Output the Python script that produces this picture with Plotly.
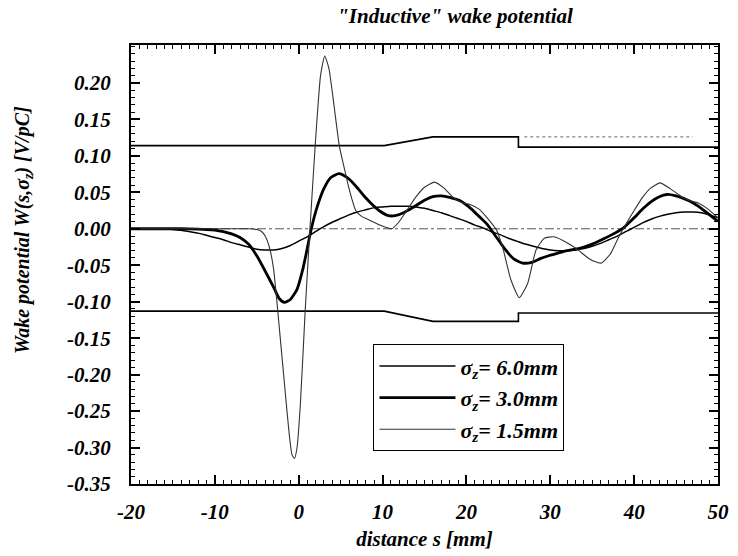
import plotly.graph_objects as go

# ---- data ----
s_15 = [-20, -10, -6, -5, -4.5, -4, -3.5, -3, -2.6, -2.2, -1.8, -1.4, -1.1, -0.8, -0.5, -0.2, 0.2, 0.76,
        1.34, 2.0, 2.6, 3.1, 3.6, 4.2, 4.85, 5.4, 6.0, 6.8, 7.5, 8.4, 9.9, 11.1, 12.0, 13.0, 14.0, 15.0,
        16.2, 17.3, 18.5, 19.5, 20.5, 21.5, 22.4, 23.6, 24.4, 25.3, 26.3, 27.3, 28.3, 29.3, 30.4, 31.5,
        32.4, 33.3, 34.5, 35.3, 36.1, 37.2, 38.0, 38.8, 40.0, 41.0, 42.0, 43.1, 44.3, 45.8, 46.8, 47.7,
        48.8, 50.0]
w_15 = [0, 0, 0, -0.001, -0.003, -0.010, -0.025, -0.055, -0.100, -0.150, -0.200, -0.250, -0.285, -0.310,
        -0.315, -0.300, -0.240, -0.115, 0.000, 0.120, 0.210, 0.237, 0.220, 0.170, 0.113, 0.085, 0.055,
        0.025, 0.017, 0.012, 0.004, 0.000, 0.010, 0.027, 0.044, 0.057, 0.064, 0.056, 0.042, 0.036, 0.033,
        0.027, 0.016, -0.002, -0.029, -0.070, -0.0945, -0.075, -0.029, -0.013, -0.011, -0.016, -0.022,
        -0.029, -0.040, -0.045, -0.047, -0.034, -0.015, 0.002, 0.025, 0.043, 0.056, 0.063, 0.055, 0.043,
        0.038, 0.035, 0.027, 0.015]

s_30 = [-20, -14, -12, -11, -10, -9, -8, -7, -6, -5, -4, -3, -2.3, -1.7, -1.0, -0.2, 0.5, 1.0, 1.5, 2.2,
        3.0, 3.8, 4.8, 5.8, 6.85, 7.8, 8.7, 9.7, 10.7, 11.5, 12.5, 13.6, 15.0, 16.0, 17.0, 18.0, 19.3,
        20.5, 21.5, 22.4, 23.6, 24.6, 25.6, 26.7, 27.8, 28.8, 29.8, 31.0, 32.0, 33.0, 34.0, 35.0, 36.5,
        37.7, 38.8, 40.0, 41.0, 42.0, 43.0, 43.9, 45.0, 46.6, 48.0, 49.0, 50.0]
w_30 = [0, 0, -0.0005, -0.001, -0.002, -0.004, -0.007, -0.012, -0.021, -0.037, -0.058, -0.080, -0.096,
        -0.101, -0.097, -0.083, -0.055, -0.028, 0.000, 0.030, 0.055, 0.070, 0.0756, 0.070, 0.058, 0.045,
        0.034, 0.024, 0.018, 0.018, 0.022, 0.029, 0.039, 0.044, 0.045, 0.043, 0.038, 0.028, 0.017, 0.007,
        -0.012, -0.028, -0.041, -0.047, -0.046, -0.041, -0.037, -0.033, -0.030, -0.028, -0.025, -0.021,
        -0.013, -0.006, 0.002, 0.015, 0.027, 0.037, 0.044, 0.047, 0.045, 0.038, 0.028, 0.019, 0.010]

s_60 = [-20, -16, -15, -14, -13, -12, -11, -10, -9, -8, -7, -6, -5, -4, -3, -2, -1, 0, 1, 2, 3, 4, 5,
        6, 7, 8, 9, 10, 11, 12, 13, 14, 15, 16, 17, 18, 19, 20, 21, 22, 23, 24, 25, 26, 27, 28, 29, 30,
        31, 32, 33, 34, 35, 36, 37, 38, 39, 40, 41, 42, 43, 44, 45, 46, 47, 48, 49, 50]
w_60 = [0, 0, -0.001, -0.002, -0.004, -0.006, -0.009, -0.012, -0.015, -0.019, -0.022, -0.025, -0.028,
        -0.029, -0.029, -0.027, -0.023, -0.017, -0.011, -0.004, 0.003, 0.009, 0.014, 0.019, 0.023, 0.026,
        0.029, 0.030, 0.031, 0.031, 0.031, 0.030, 0.028, 0.025, 0.022, 0.018, 0.014, 0.010, 0.005, 0.001,
        -0.004, -0.008, -0.013, -0.017, -0.021, -0.024, -0.027, -0.029, -0.030, -0.030, -0.029, -0.027,
        -0.024, -0.020, -0.015, -0.010, -0.004, 0.002, 0.008, 0.013, 0.017, 0.020, 0.022, 0.023, 0.023,
        0.022, 0.019, 0.015]

# geometry outline (upper / lower profile)
s_geo = [-20, 10.2, 16.0, 26.2, 26.2, 50]
w_upper = [0.114, 0.114, 0.126, 0.126, 0.112, 0.112]
w_lower = [-0.113, -0.113, -0.127, -0.127, -0.1155, -0.1155]
s_dot = [26.9, 47.0]
w_dot = [0.126, 0.126]
s_zero = [-20, 50]
w_zero = [0, 0]

x_tickvals = [-20, -10, 0, 10, 20, 30, 40, 50]
x_ticktext = ["-20", "-10", "0", "10", "20", "30", "40", "50"]
y_tickvals = [0.20, 0.15, 0.10, 0.05, 0.00, -0.05, -0.10, -0.15, -0.20, -0.25, -0.30, -0.35]
y_ticktext = ["0.20", "0.15", "0.10", "0.05", "0.00", "-0.05", "-0.10", "-0.15", "-0.20", "-0.25",
              "-0.30", "-0.35"]

labels = ["σ<sub>z</sub>= 6.0mm", "σ<sub>z</sub>= 3.0mm", "σ<sub>z</sub>= 1.5mm"]
title_text = "\"Inductive\" wake potential"
x_title = "distance s [mm]"
y_title = "Wake potential W(s,σ<sub>z</sub>) [V/pC]"


def b(t):
    return "<b><i>" + t + "</i></b>"


FONT = "Liberation Serif"

fig = go.Figure()

# helper lines (no legend)
fig.add_trace(go.Scatter(x=s_zero, y=w_zero, mode="lines", showlegend=False,
                         line=dict(color="#555555", width=1, dash="dashdot")))
fig.add_trace(go.Scatter(x=s_geo, y=w_upper, mode="lines", showlegend=False,
                         line=dict(color="black", width=1.6)))
fig.add_trace(go.Scatter(x=s_geo, y=w_lower, mode="lines", showlegend=False,
                         line=dict(color="black", width=1.6)))
fig.add_trace(go.Scatter(x=s_dot, y=w_dot, mode="lines", showlegend=False,
                         line=dict(color="#666666", width=1, dash="dot")))

# wake potentials
fig.add_trace(go.Scatter(x=s_60, y=w_60, mode="lines", name=b(labels[0]),
                         line=dict(color="black", width=1.5, shape="spline", smoothing=0.6)))
fig.add_trace(go.Scatter(x=s_30, y=w_30, mode="lines", name=b(labels[1]),
                         line=dict(color="black", width=2.8, shape="spline", smoothing=0.6)))
fig.add_trace(go.Scatter(x=s_15, y=w_15, mode="lines", name=b(labels[2]),
                         line=dict(color="#333333", width=1.1, shape="spline", smoothing=0.5)))

tickfont = dict(family=FONT, size=21, color="black", weight="bold", style="italic")

fig.update_layout(
    width=738, height=556,
    margin=dict(l=131, r=9, t=45, b=65),
    paper_bgcolor="white", plot_bgcolor="white",
    title=dict(text=b(title_text), x=455 / 738, xanchor="center",
               xref="container", y=1 - 16 / 556, yref="container", yanchor="middle",
               font=dict(family=FONT, size=21, color="black", weight="bold", style="italic")),
    xaxis=dict(range=[-20, 50], tickmode="array", tickvals=x_tickvals,
               ticktext=[b(t) for t in x_ticktext],
               ticks="inside", ticklen=9, tickwidth=1.5, tickcolor="black",
               minor=dict(tickmode="linear", tick0=0, dtick=1, ticks="inside", ticklen=4,
                          tickwidth=1, tickcolor="black"),
               showline=True, linewidth=2, linecolor="black", mirror="ticks",
               showgrid=False, zeroline=False, tickfont=tickfont, ticklabelstandoff=8,
               title=dict(text=b(x_title), standoff=8,
                          font=dict(family=FONT, size=21, color="black", weight="bold",
                                    style="italic"))),
    yaxis=dict(range=[-0.35, 0.252], tickmode="array", tickvals=y_tickvals,
               ticktext=[b(t) for t in y_ticktext],
               ticks="inside", ticklen=9, tickwidth=1.5, tickcolor="black",
               minor=dict(tickmode="linear", tick0=0, dtick=0.01, ticks="inside", ticklen=4,
                          tickwidth=1, tickcolor="black"),
               showline=True, linewidth=2, linecolor="black", mirror="ticks",
               showgrid=False, zeroline=False, tickfont=tickfont, ticklabelstandoff=14),
    legend=dict(x=(378 - 131) / 598, y=(491 - 349) / 446, xanchor="left", yanchor="top",
                bgcolor="white", bordercolor="black", borderwidth=1,
                font=dict(family=FONT, size=22, color="black", weight="bold", style="italic"),
                itemwidth=76, tracegroupgap=0),
    annotations=[dict(text=b(y_title), xref="paper", yref="paper",
                      x=(21 - 131) / 598, y=(491 - 233) / 446, textangle=-90, showarrow=False,
                      xanchor="center", yanchor="middle",
                      font=dict(family=FONT, size=20, color="black", weight="bold",
                                style="italic"))],
)

fig.write_html("out.html")
